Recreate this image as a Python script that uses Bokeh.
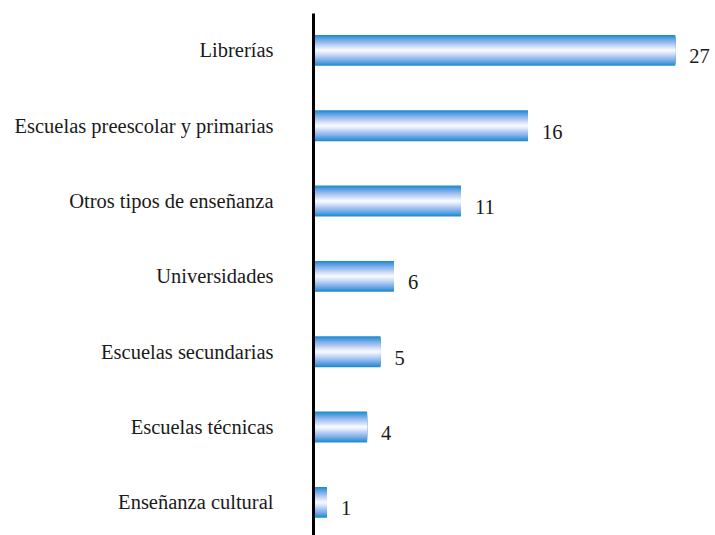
from bokeh.plotting import figure
from bokeh.models import Range1d, FixedTicker, ColumnDataSource
from bokeh.embed import file_html
from bokeh.resources import INLINE
from bokeh.core.properties import value

categories = ["Librerías", "Escuelas preescolar y primarias", "Otros tipos de enseñanza",
              "Universidades", "Escuelas secundarias", "Escuelas técnicas", "Enseñanza cultural"]
counts = [27, 16, 11, 6, 5, 4, 1]

n = len(categories)
ypos = [n - 1 - i for i in range(n)]

p = figure(width=715, height=535, output_backend="svg", toolbar_location=None,
           x_range=Range1d(0, 30.0), y_range=Range1d(-0.44, 6.49),
           min_border_left=313, min_border_right=0, min_border_top=13, min_border_bottom=0)

p.xaxis.visible = False
p.grid.visible = False
p.outline_line_color = None

# gradient bars (stacked nested strips: edge blue -> white centre)
stops = [(1.0, (30, 140, 208)), (0.75, (105, 165, 228)), (0.45, (172, 198, 243)),
         (0.15, (232, 238, 252)), (0.0, (255, 255, 255))]

def col(t):
    for (t1, c1), (t0, c0) in zip(stops[:-1], stops[1:]):
        if t0 <= t <= t1:
            f = (t - t0) / (t1 - t0)
            c = tuple(int(round(c0[k] + (c1[k] - c0[k]) * f)) for k in range(3))
            return "#%02x%02x%02x" % c
    return "#ffffff"

src = ColumnDataSource(dict(y=ypos, right=counts, label=[str(c) for c in counts]))
bar_h = 0.41
layers = 16
for i in range(layers):
    t = 1 - i / layers
    p.hbar(y="y", right="right", left=0, height=bar_h * t, source=src,
           fill_color=col(t), line_color=None)

p.text(x="right", y="y", text="label", source=src, x_offset=14, y_offset=6,
       text_align="left", text_baseline="middle", text_font=value("Liberation Serif"),
       text_font_size="20.5px", text_color="#1a1a1a")

p.yaxis.ticker = FixedTicker(ticks=ypos)
p.yaxis.major_label_overrides = {y: c for y, c in zip(ypos, categories)}
p.yaxis.axis_line_width = 3
p.yaxis.axis_line_color = "black"
p.yaxis.major_tick_line_color = None
p.yaxis.minor_tick_line_color = None
p.yaxis.major_tick_out = 0
p.yaxis.major_tick_in = 0
p.yaxis.major_label_standoff = 40
p.yaxis.major_label_text_font = "Liberation Serif"
p.yaxis.major_label_text_font_size = "20.5px"
p.yaxis.major_label_text_color = "#1a1a1a"

open("out.html", "w").write(file_html(p, INLINE))
